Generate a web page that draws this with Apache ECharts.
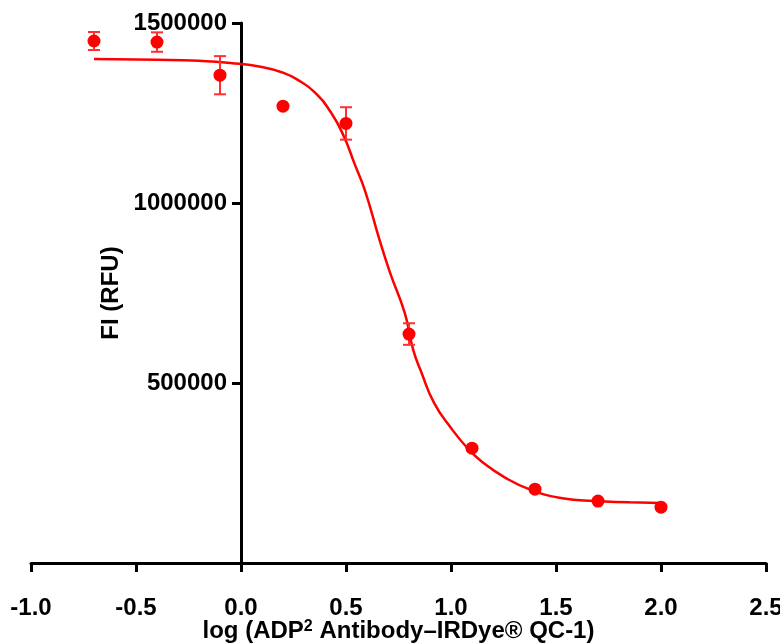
<!DOCTYPE html>
<html>
<head>
<meta charset="utf-8">
<script src="https://cdn.jsdelivr.net/npm/echarts@6/dist/echarts.min.js"></script>
<style>
  html, body { margin: 0; padding: 0; background: #fff; }
  #chart { width: 780px; height: 643px; }
</style>
</head>
<body>
<div id="chart"></div>
<script>
// measured points (mean ± SD)
const doseLog = [-0.7, -0.4, -0.1, 0.2, 0.5, 0.8, 1.1, 1.4, 1.7, 2.0];
const signal = [1450000, 1447000, 1355000, 1269000, 1221000, 636000, 319000, 205000, 172000, 155000];
const sdev = [25000, 27000, 53000, 0, 45000, 30000, 0, 0, 0, 0];

// fitted curve
const fitX = [-0.7, -0.4, -0.2, -0.05, 0.1, 0.2, 0.27, 0.35, 0.43, 0.49, 0.54, 0.59, 0.66, 0.71, 0.78, 0.82, 0.86, 0.92, 1.0, 1.08, 1.15, 1.25, 1.38, 1.53, 1.68, 1.85, 2.0];
const fitY = [1400000, 1398000, 1395000, 1389000, 1378000, 1362000, 1342000, 1308000, 1250000, 1185000, 1110000, 1035000, 897000, 806000, 694000, 592000, 528000, 444000, 375000, 318000, 280000, 240000, 203000, 180000, 172000, 169000, 167000];

const xTicks = { min: -1, max: 2.5, step: 0.5 };
const yTicks = { min: 0, max: 1500000, step: 500000 };

const red = '#ff0000';
const font = 'Liberation Sans, Arial, sans-serif';
const gridLeft = 31;

const chart = echarts.init(document.getElementById('chart'), null, { renderer: 'canvas' });

const errData = doseLog
  .map((x, i) => [x, signal[i] - sdev[i], signal[i] + sdev[i]])
  .filter((d, i) => sdev[i] > 0);

const option = {
  animation: false,
  backgroundColor: '#fff',
  grid: { left: gridLeft, right: 14, top: 23, bottom: 80, containLabel: false, outerBoundsMode: 'none' },
  xAxis: {
    type: 'value',
    min: xTicks.min, max: xTicks.max, interval: xTicks.step,
    name: '{t|log (ADP}{s|2}{t| Antibody–IRDye® QC-1)}',
    nameLocation: 'middle',
    nameGap: 56,
    nameMoveOverlap: false,
    nameTextStyle: {
      rich: {
        t: { fontFamily: font, fontSize: 24, fontWeight: 'bold', color: '#000' },
        s: { fontFamily: font, fontSize: 16, fontWeight: 'bold', color: '#000', verticalAlign: 'top', padding: [0, 0, 6, 0] }
      }
    },
    axisLine: { onZero: false, lineStyle: { color: '#000', width: 3 } },
    axisTick: { show: true, inside: false, length: 9, lineStyle: { color: '#000', width: 3 } },
    axisLabel: {
      margin: 33, color: '#000', fontFamily: font, fontSize: 24, fontWeight: 'bold',
      formatter: v => v.toFixed(1)
    },
    splitLine: { show: false }
  },
  yAxis: {
    type: 'value',
    min: yTicks.min, max: yTicks.max, interval: yTicks.step,
    name: 'FI (RFU)',
    nameLocation: 'middle',
    nameGap: 118,
    nameRotate: 90,
    nameMoveOverlap: false,
    nameTextStyle: { fontFamily: font, fontSize: 24, fontWeight: 'bold', color: '#000' },
    axisLine: { onZero: false, lineStyle: { color: '#000', width: 3 } },
    axisTick: { show: true, inside: false, length: 9, lineStyle: { color: '#000', width: 3 } },
    axisLabel: {
      margin: 14, color: '#000', fontFamily: font, fontSize: 24, fontWeight: 'bold',
      showMinLabel: false,
      formatter: v => String(v)
    },
    splitLine: { show: false }
  },
  series: [
    {
      name: 'fit',
      type: 'line',
      data: fitX.map((x, i) => [x, fitY[i]]),
      smooth: true,
      showSymbol: false,
      lineStyle: { color: red, width: 2.5 },
      z: 2
    },
    {
      name: 'sd',
      type: 'custom',
      data: errData,
      renderItem: (params, api) => {
        const x = api.value(0);
        const lo = api.coord([x, api.value(1)]);
        const hi = api.coord([x, api.value(2)]);
        const half = 6;
        const style = { stroke: '#ff3030', lineWidth: 2 };
        return {
          type: 'group',
          children: [
            { type: 'line', shape: { x1: hi[0], y1: hi[1], x2: lo[0], y2: lo[1] }, style },
            { type: 'line', shape: { x1: hi[0] - half, y1: hi[1], x2: hi[0] + half, y2: hi[1] }, style },
            { type: 'line', shape: { x1: lo[0] - half, y1: lo[1], x2: lo[0] + half, y2: lo[1] }, style }
          ]
        };
      },
      z: 3
    },
    {
      name: 'data',
      type: 'scatter',
      data: doseLog.map((x, i) => [x, signal[i]]),
      symbol: 'circle',
      symbolSize: 13,
      itemStyle: { color: red, opacity: 1 },
      z: 4
    }
  ]
};

chart.setOption(option);

// move the y axis (line, ticks, labels, name) to x = 0
const zeroPx = chart.convertToPixel({ xAxisIndex: 0 }, 0);
chart.setOption({ yAxis: { offset: -(zeroPx - gridLeft) } });
</script>
</body>
</html>
